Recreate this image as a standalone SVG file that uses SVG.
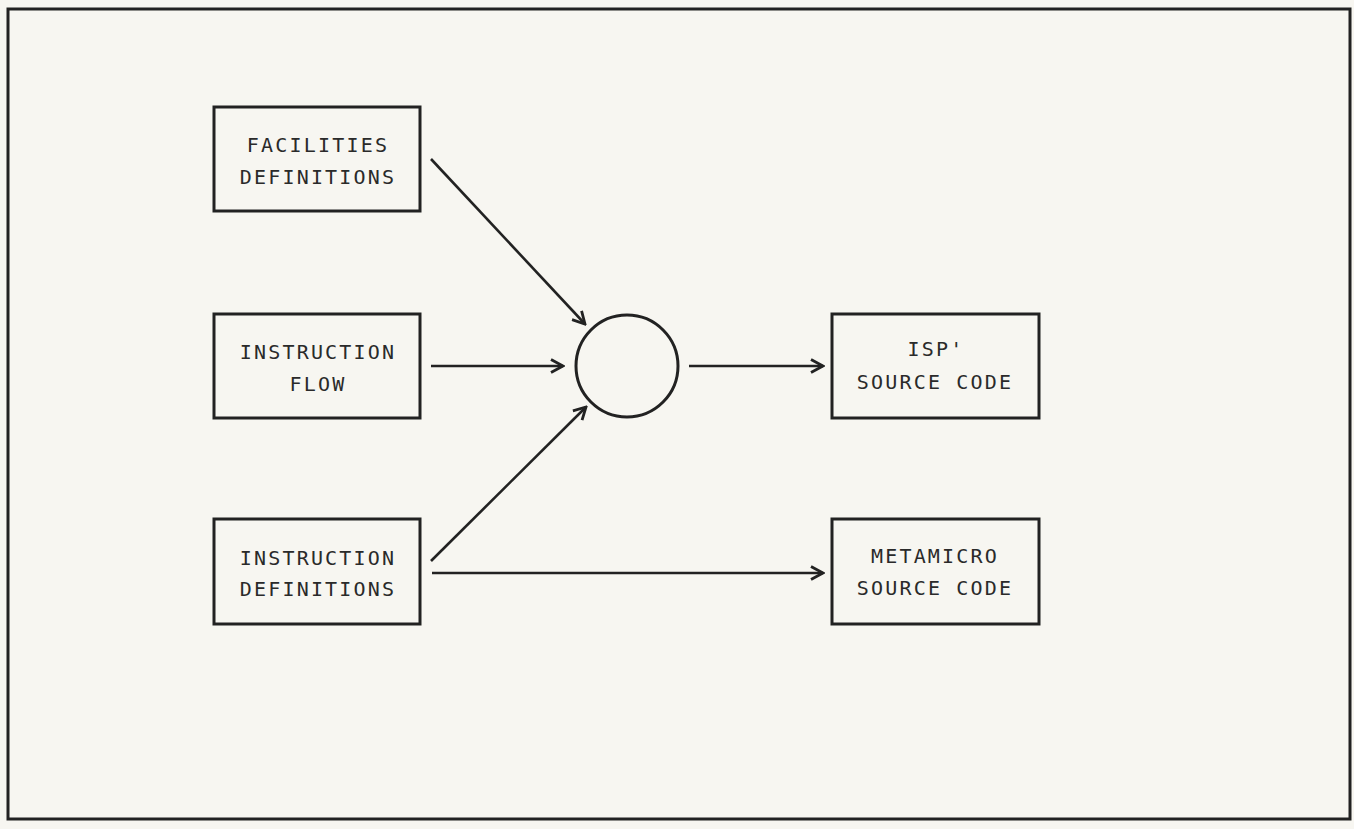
<svg xmlns="http://www.w3.org/2000/svg" width="1354" height="829" viewBox="0 0 1354 829">
<defs>
<style>
.frame{fill:none;stroke:#222;stroke-width:3}
.box{fill:none;stroke:#222;stroke-width:3}
.lbl{font-family:"DejaVu Sans Mono","Liberation Mono",monospace;font-size:20px;letter-spacing:2.2px;fill:#2a2a2a;text-anchor:middle}
.conn{fill:none;stroke:#222;stroke-width:2.6}
</style>
<marker id="arr" viewBox="0 0 16 16" refX="14" refY="8" markerWidth="16" markerHeight="16" markerUnits="userSpaceOnUse" orient="auto">
<path d="M2,1.5 L14,8 L2,14.5" fill="none" stroke="#222" stroke-width="2.8" stroke-linejoin="miter"/>
</marker>
</defs>
<rect x="0" y="0" width="1354" height="829" fill="#f7f6f1"/>
<rect class="frame" x="8" y="9" width="1342" height="810"/>
<g id="facilities">
<rect class="box" x="214" y="107" width="206" height="104"/>
<text class="lbl" x="318" y="152">FACILITIES</text>
<text class="lbl" x="318" y="184">DEFINITIONS</text>
</g>
<g id="instruction-flow">
<rect class="box" x="214" y="314" width="206" height="104"/>
<text class="lbl" x="318" y="359">INSTRUCTION</text>
<text class="lbl" x="318" y="391">FLOW</text>
</g>
<g id="instruction-definitions">
<rect class="box" x="214" y="519" width="206" height="105"/>
<text class="lbl" x="318" y="565">INSTRUCTION</text>
<text class="lbl" x="318" y="596">DEFINITIONS</text>
</g>
<g id="processor">
<circle cx="627" cy="366" r="51" fill="none" stroke="#222" stroke-width="3"/>
</g>
<g id="isp">
<rect class="box" x="832" y="314" width="207" height="104"/>
<text class="lbl" x="936" y="356">ISP'</text>
<text class="lbl" x="935" y="389">SOURCE CODE</text>
</g>
<g id="metamicro">
<rect class="box" x="832" y="519" width="207" height="105"/>
<text class="lbl" x="935" y="563">METAMICRO</text>
<text class="lbl" x="935" y="595">SOURCE CODE</text>
</g>
<g id="connectors">
<line class="conn" x1="431" y1="159" x2="585" y2="324" marker-end="url(#arr)"/>
<line class="conn" x1="431" y1="366" x2="563" y2="366" marker-end="url(#arr)"/>
<line class="conn" x1="431" y1="561" x2="586" y2="407" marker-end="url(#arr)"/>
<line class="conn" x1="689" y1="366" x2="823" y2="366" marker-end="url(#arr)"/>
<line class="conn" x1="432" y1="573" x2="823" y2="573" marker-end="url(#arr)"/>
</g>
</svg>
